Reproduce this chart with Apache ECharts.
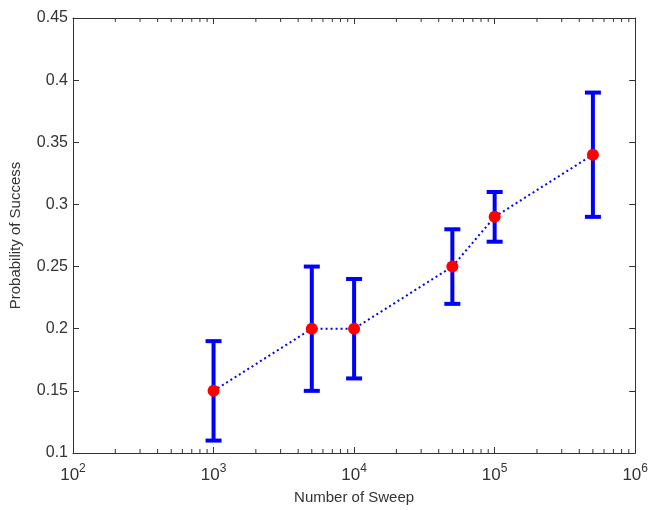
<!DOCTYPE html>
<html>
<head>
<meta charset="utf-8">
<script src="https://cdn.jsdelivr.net/npm/echarts@6/dist/echarts.min.js"></script>
<style>
  html, body { margin: 0; padding: 0; background: #fff; }
  #main { width: 651px; height: 510px; }
</style>
</head>
<body>
<div id="main"></div>
<script>
// data
var sweeps = [1000, 5000, 10000, 50000, 100000, 500000];
var prob   = [0.15, 0.20, 0.20, 0.25, 0.29, 0.34];
var lower  = [0.11, 0.15, 0.16, 0.22, 0.27, 0.29];
var upper  = [0.19, 0.25, 0.24, 0.28, 0.31, 0.39];
var minorTicks = [200, 300, 400, 500, 600, 700, 800, 900,
                  2000, 3000, 4000, 5000, 6000, 7000, 8000, 9000,
                  20000, 30000, 40000, 50000, 60000, 70000, 80000, 90000,
                  200000, 300000, 400000, 500000, 600000, 700000, 800000, 900000];
var xMin = 100, xMax = 1000000;
var yMin = 0.1, yMax = 0.45;

var font = '"Liberation Sans", Arial, sans-serif';
var blue = '#0000ff';

var chart = echarts.init(document.getElementById('main'));

var option = {
    backgroundColor: '#fff',
    animation: false,
    grid: { left: 72, right: 10, top: 18, bottom: 51 },
    xAxis: [{
        type: 'log',
        logBase: 10,
        min: xMin,
        max: xMax,
        name: 'Number of Sweep',
        nameLocation: 'middle',
        nameGap: 37,
        nameTextStyle: { fontFamily: font, fontSize: 15, color: '#333' },
        axisLine: { show: true, lineStyle: { color: '#333', width: 1 } },
        axisTick: { show: true, inside: true, length: 6, lineStyle: { color: '#333' } },
        splitLine: { show: false },
        axisLabel: {
            margin: 6,
            formatter: function (v) {
                return '{b|10}{s|' + Math.round(Math.log10(v)) + '}';
            },
            rich: {
                b: { fontFamily: font, fontSize: 17, color: '#333', padding: [8, 0, 0, 0] },
                s: { fontFamily: font, fontSize: 12, color: '#333', padding: [0, 0, 6, 0] }
            }
        }
    }, {
        type: 'log',
        logBase: 10,
        min: xMin,
        max: xMax,
        position: 'top',
        axisLine: { show: true, lineStyle: { color: '#333', width: 1 } },
        axisTick: { show: true, inside: true, length: 6, lineStyle: { color: '#333' } },
        axisLabel: { show: false },
        splitLine: { show: false }
    }],
    yAxis: [{
        type: 'value',
        min: yMin,
        max: yMax,
        interval: 0.05,
        name: 'Probability of Success',
        nameLocation: 'middle',
        nameGap: 50,
        nameTextStyle: { fontFamily: font, fontSize: 15, color: '#333' },
        axisLine: { show: true, lineStyle: { color: '#333', width: 1 } },
        axisTick: { show: true, inside: true, length: 6, lineStyle: { color: '#333' } },
        splitLine: { show: false },
        axisLabel: { fontFamily: font, fontSize: 16, color: '#333', margin: 5 }
    }, {
        type: 'value',
        min: yMin,
        max: yMax,
        interval: 0.05,
        position: 'right',
        axisLine: { show: true, lineStyle: { color: '#333', width: 1 } },
        axisTick: { show: true, inside: true, length: 6, lineStyle: { color: '#333' } },
        axisLabel: { show: false },
        splitLine: { show: false }
    }],
    series: [
        {
            // minor ticks of the log axis, bottom and top
            type: 'custom',
            silent: true,
            data: minorTicks,
            renderItem: function (params, api) {
                var x = api.value(0);
                var b = api.coord([x, yMin]);
                var t = api.coord([x, yMax]);
                var st = { stroke: '#333', lineWidth: 1 };
                return {
                    type: 'group',
                    children: [
                        { type: 'line', shape: { x1: b[0], y1: b[1], x2: b[0], y2: b[1] - 4 }, style: st },
                        { type: 'line', shape: { x1: t[0], y1: t[1], x2: t[0], y2: t[1] + 4 }, style: st }
                    ]
                };
            },
            z: 1
        },
        {
            // error bars
            type: 'custom',
            data: sweeps.map(function (s, i) { return [s, lower[i], upper[i]]; }),
            renderItem: function (params, api) {
                var x = api.value(0);
                var lo = api.coord([x, api.value(1)]);
                var hi = api.coord([x, api.value(2)]);
                var hw = 8;
                var st = { stroke: blue, lineWidth: 4 };
                return {
                    type: 'group',
                    children: [
                        { type: 'line', shape: { x1: lo[0], y1: lo[1], x2: hi[0], y2: hi[1] }, style: st },
                        { type: 'line', shape: { x1: lo[0] - hw, y1: lo[1], x2: lo[0] + hw, y2: lo[1] }, style: st },
                        { type: 'line', shape: { x1: hi[0] - hw, y1: hi[1], x2: hi[0] + hw, y2: hi[1] }, style: st }
                    ]
                };
            },
            z: 2
        },
        {
            type: 'line',
            data: sweeps.map(function (s, i) { return [s, prob[i]]; }),
            lineStyle: { color: blue, width: 2, type: [2, 3] },
            symbol: 'circle',
            symbolSize: 12,
            itemStyle: { color: '#ff0000', borderWidth: 0 },
            z: 3
        }
    ]
};

chart.setOption(option);
</script>
</body>
</html>
